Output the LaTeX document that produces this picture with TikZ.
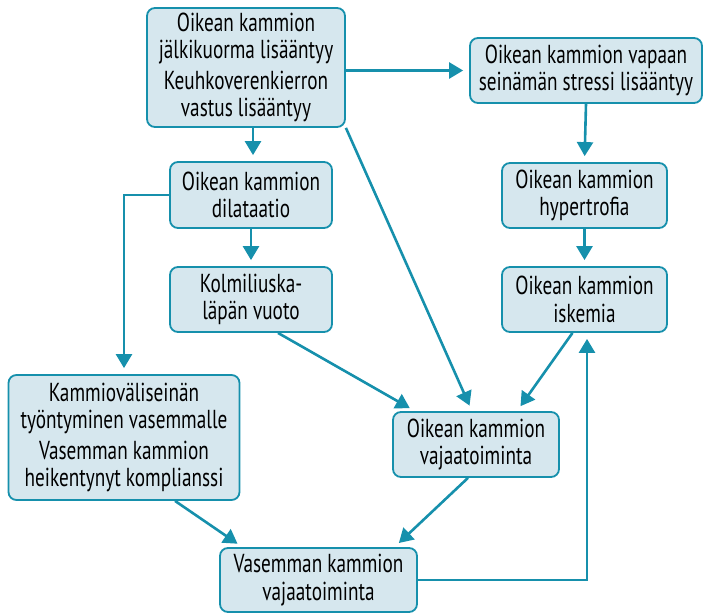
\documentclass[tikz,border=0pt]{standalone}
\usepackage{fontspec}
\setmainfont{PT Sans}[FakeStretch=0.74]
\usepackage{tikz}
\usetikzlibrary{arrows.meta,positioning,calc}
\definecolor{rvteal}{HTML}{1690AC}
\definecolor{rvfill}{HTML}{D6E7EE}

\begin{document}
\begin{tikzpicture}[x=1pt,y=-1pt,
box/.style={draw=rvteal,fill=rvfill,line width=1.8pt,rounded corners=8pt,
align=center,inner sep=2pt,font=\fontsize{26}{27.5}\selectfont},
arr/.style={draw=rvteal,line width=2.6pt,
-{Triangle[length=14pt,width=16pt]},shorten >=6pt}
]
\useasboundingbox (0,0) rectangle (704,615);
\node[box,minimum width=198pt,minimum height=119pt] (jk) at (246,67.5)
  {Oikean kammion\\jälkikuorma lisääntyy\\[3pt]Keuhkoverenkierron\\vastus lisääntyy};
\node[box,minimum width=232pt,minimum height=65pt] (st) at (586,70.5)
  {Oikean kammion vapaan\\seinämän stressi lisääntyy};
\node[box,minimum width=162pt,minimum height=66pt] (dil) at (251,195)
  {Oikean kammion\\dilataatio};
\node[box,minimum width=165pt,minimum height=65pt] (hyp) at (584.5,195.5)
  {Oikean kammion\\hypertrofia};
\node[box,minimum width=162pt,minimum height=65pt] (tr) at (251,299.5)
  {Kolmiliuska-\\läpän vuoto};
\node[box,minimum width=165pt,minimum height=65pt] (isk) at (584.5,299.5)
  {Oikean kammion\\iskemia};
\node[box,minimum width=231pt,minimum height=125pt] (sep) at (124,437.5)
  {Kammioväliseinän\\työntyminen vasemmalle\\[3pt]Vasemman kammion\\heikentynyt komplianssi};
\node[box,minimum width=166pt,minimum height=65pt] (rv) at (476,444.5)
  {Oikean kammion\\vajaatoiminta};
\node[box,minimum width=197pt,minimum height=64pt] (lv) at (318.5,580)
  {Vasemman kammion\\vajaatoiminta};

\draw[arr] (jk.east |- st.west) -- (st.west);
\draw[arr] ([xshift=2pt]dil.north |- jk.south) -- ([xshift=2pt]dil.north);
\draw[arr] (jk.south east) -- ([xshift=-4pt]rv.north);
\draw[arr] (st.south) -- (hyp.north);
\draw[arr] (hyp) -- (isk);
\draw[arr] (dil) -- (tr);
\draw[arr] (dil.west) -| (sep.north);
\draw[arr] ([xshift=27pt]tr.south) -- ([xshift=-61pt]rv.north);
\draw[arr] ([xshift=-12pt]isk.south) -- ([xshift=41pt]rv.north);
\draw[arr] ([xshift=-8pt]rv.south) -- ([xshift=76pt]lv.north);
\draw[arr] ([xshift=51pt]sep.south) -- ([xshift=-76pt]lv.north);
\draw[arr] (lv.east) -| ([xshift=2.5pt]isk.south);
\end{tikzpicture}
\end{document}
